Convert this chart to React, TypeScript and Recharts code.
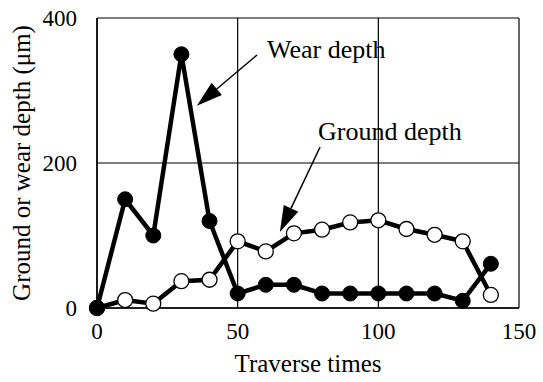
import { CartesianGrid, Label, Line, LineChart, ReferenceLine, XAxis, YAxis } from "recharts";

const traverse = [0, 10, 20, 30, 40, 50, 60, 70, 80, 90, 100, 110, 120, 130, 140];
const wearDepth = [0, 150, 100, 350, 120, 20, 32, 32, 20, 20, 20, 20, 20, 10, 61];
const groundDepth = [0, 11, 6, 37, 39, 92, 78, 103, 108, 118, 121, 109, 101, 92, 18];
const xTicks = [0, 50, 100, 150];
const yTicks = [0, 200, 400];

const data = traverse.map((t, i) => ({ t, wear: wearDepth[i], ground: groundDepth[i] }));

const font = "'Liberation Serif', 'Times New Roman', serif";

// arrow drawn between the two ends of a reference segment
const Arrow = (props: any) => {
  const { x1, y1, x2, y2 } = props;
  const dx = x2 - x1;
  const dy = y2 - y1;
  const len = Math.sqrt(dx * dx + dy * dy);
  const ux = dx / len;
  const uy = dy / len;
  const head = 26;
  const half = 8;
  const bx = x2 - ux * head;
  const by = y2 - uy * head;
  const pts = `${x2},${y2} ${bx - uy * half},${by + ux * half} ${bx + uy * half},${by - ux * half}`;
  return (
    <g>
      <line x1={x1} y1={y1} x2={bx} y2={by} stroke="#000" strokeWidth={1.5} />
      <polygon points={pts} fill="#000" />
    </g>
  );
};

const OpenDot = (props: any) => {
  const { cx, cy } = props;
  return <circle cx={cx} cy={cy} r={7.5} fill="#fff" stroke="#000" strokeWidth={1.3} />;
};

export default function App() {
  return (
    <div style={{ position: "absolute", left: 0, top: 0, width: 543, height: 382, background: "#fff" }}>
      <LineChart
        width={543}
        height={382}
        data={data}
        margin={{ top: 18, right: 24, left: 37, bottom: 34 }}
        style={{ fontFamily: font }}
      >
        <CartesianGrid stroke="#000" strokeWidth={1.2} />
        <XAxis
          dataKey="t"
          type="number"
          domain={[0, 150]}
          ticks={xTicks}
          tickLine={false}
          axisLine={{ stroke: "#000", strokeWidth: 1.5 }}
          tick={{ fill: "#000", fontSize: 23, fontFamily: font }}
          tickMargin={9}
          height={40}
        >
          <Label
            value="Traverse times"
            position="bottom"
            offset={6}
            fill="#000"
            style={{ fill: "#000", fontSize: 25, fontFamily: font }}
          />
        </XAxis>
        <YAxis
          type="number"
          domain={[0, 400]}
          ticks={yTicks}
          tickLine={false}
          axisLine={{ stroke: "#000", strokeWidth: 1.5 }}
          tick={{ fill: "#000", fontSize: 23, fontFamily: font }}
          tickMargin={14}
          width={60}
        >
          <Label
            value="Ground or wear depth (μm)"
            angle={-90}
            position="left"
            offset={16}
            fill="#000"
            style={{ fill: "#000", fontSize: 25, fontFamily: font, textAnchor: "middle" }}
          />
        </YAxis>
        <ReferenceLine
          segment={[{ x: 56.9, y: 349 }, { x: 35.5, y: 279 }]}
          shape={Arrow}
          ifOverflow="visible"
        />
        <ReferenceLine
          segment={[{ x: 79.3, y: 222 }, { x: 65, y: 105 }]}
          shape={Arrow}
          ifOverflow="visible"
        />
        <Line
          dataKey="ground"
          stroke="#000"
          strokeWidth={4.5}
          dot={<OpenDot />}
          isAnimationActive={false}
        />
        <Line
          dataKey="wear"
          stroke="#000"
          strokeWidth={4.5}
          dot={{ r: 7.5, fill: "#000", stroke: "#000", strokeWidth: 1 }}
          isAnimationActive={false}
        />
        <text x={267} y={58} fontSize={26} fontFamily={font} fill="#000">
          Wear depth
        </text>
        <text x={318} y={140} fontSize={26} fontFamily={font} fill="#000">
          Ground depth
        </text>
      </LineChart>
    </div>
  );
}
